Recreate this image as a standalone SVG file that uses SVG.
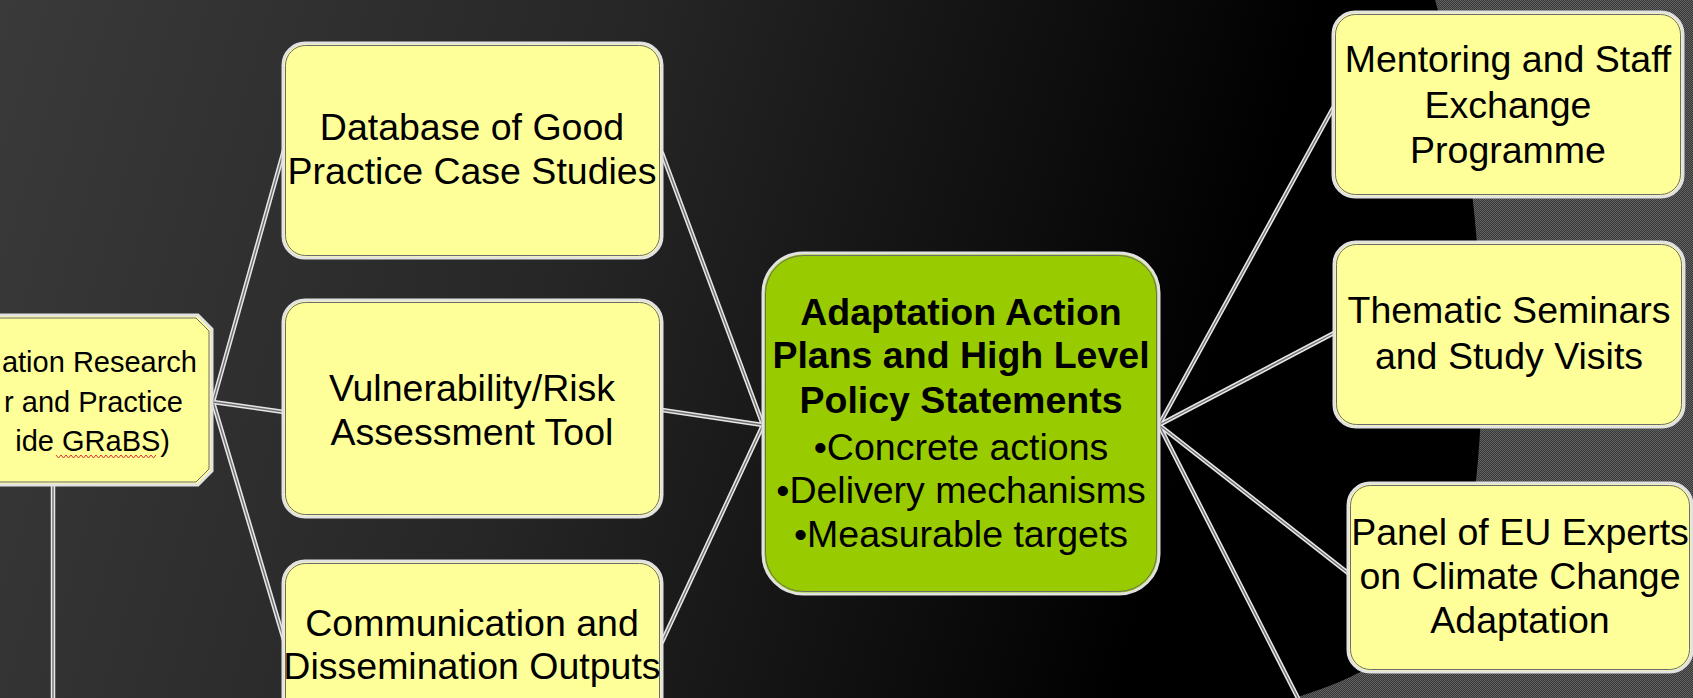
<svg xmlns="http://www.w3.org/2000/svg" width="1693" height="698" viewBox="0 0 1693 698">
  <defs>
    <linearGradient id="bg" x1="0" y1="0" x2="1693" y2="500" gradientUnits="userSpaceOnUse">
      <stop offset="0" stop-color="#3a3a3a"/>
      <stop offset="0.35" stop-color="#262626"/>
      <stop offset="0.6" stop-color="#0d0d0d"/>
      <stop offset="0.72" stop-color="#000"/>
      <stop offset="1" stop-color="#000"/>
    </linearGradient>
    <pattern id="dots" width="2" height="2" patternUnits="userSpaceOnUse">
      <rect width="2" height="2" fill="#383838"/>
      <rect width="1" height="1" fill="#626262"/>
      <rect x="1" y="1" width="1" height="1" fill="#626262"/>
    </pattern>
    <style>
      .box { fill: #ffff99; stroke: #e2e2e2; stroke-width: 3; }
      .inner { fill: none; stroke: #6b6b6b; stroke-width: 1; }
      .green { fill: #99cc00; stroke: #e2e2e2; stroke-width: 3; }
      .t { font-family: "Liberation Sans", Arial, sans-serif; fill: #000; text-anchor: middle; }
      .n { font-size: 37.5px; }
      .b { font-size: 37.5px; font-weight: bold; }
      .s { font-size: 29px; text-anchor: end; }
      .c1 { fill: none; stroke: #e6e6e6; stroke-width: 4.5; stroke-linecap: round; }
      .c2 { fill: none; stroke: #707070; stroke-width: 1.4; stroke-linecap: round; }
    </style>
  </defs>

  <rect width="1693" height="698" fill="url(#bg)"/>
  <path d="M1435,0 C1468,110 1492,300 1478,460 C1468,570 1450,650 1295,698 L1693,698 L1693,0 Z" fill="url(#dots)"/>

  <g id="connectors">
    <g class="c1">
      <line x1="213" y1="402" x2="284" y2="150"/>
      <line x1="213" y1="402" x2="284" y2="412"/>
      <line x1="213" y1="402" x2="284" y2="640"/>
      <line x1="53" y1="486" x2="53" y2="698"/>
      <line x1="662" y1="153" x2="763" y2="425"/>
      <line x1="662" y1="410" x2="763" y2="425"/>
      <line x1="662" y1="642" x2="763" y2="425"/>
      <line x1="1159" y1="425" x2="1333" y2="108"/>
      <line x1="1159" y1="425" x2="1334" y2="333"/>
      <line x1="1159" y1="425" x2="1348" y2="573"/>
      <line x1="1159" y1="425" x2="1304" y2="710"/>
    </g>
    <g class="c2">
      <line x1="213" y1="402" x2="284" y2="150"/>
      <line x1="213" y1="402" x2="284" y2="412"/>
      <line x1="213" y1="402" x2="284" y2="640"/>
      <line x1="53" y1="486" x2="53" y2="698"/>
      <line x1="662" y1="153" x2="763" y2="425"/>
      <line x1="662" y1="410" x2="763" y2="425"/>
      <line x1="662" y1="642" x2="763" y2="425"/>
      <line x1="1159" y1="425" x2="1333" y2="108"/>
      <line x1="1159" y1="425" x2="1334" y2="333"/>
      <line x1="1159" y1="425" x2="1348" y2="573"/>
      <line x1="1159" y1="425" x2="1304" y2="710"/>
    </g>
  </g>

  <g id="node-left">
    <path class="box" d="M-200,315 H198 L212,329 V471 L198,485 H-200 Z"/>
    <path class="inner" d="M-200,318 H196 L209,331 V469 L196,482 H-200"/>
    <text class="t s" x="197" y="372">ation Research</text>
    <text class="t s" x="183" y="412">r and Practice</text>
    <text class="t s" x="170" y="451">ide GRaBS)</text>
    <path d="M56,455 l2.5,3 l2.5,-3 l2.5,3 l2.5,-3 l2.5,3 l2.5,-3 l2.5,3 l2.5,-3 l2.5,3 l2.5,-3 l2.5,3 l2.5,-3 l2.5,3 l2.5,-3 l2.5,3 l2.5,-3 l2.5,3 l2.5,-3 l2.5,3 l2.5,-3 l2.5,3 l2.5,-3 l2.5,3 l2.5,-3 l2.5,3 l2.5,-3 l2.5,3 l2.5,-3 l2.5,3 l2.5,-3 l2.5,3 l2.5,-3 l2.5,3 l2.5,-3 l2.5,3 l2.5,-3 l2.5,3 l2.5,-3 l2.5,3 l2.5,-3" fill="none" stroke="#e53030" stroke-width="1"/>
  </g>

  <g id="node-database">
    <rect class="box" x="283" y="43" width="379" height="215" rx="22"/>
    <rect class="inner" x="285.5" y="45.5" width="374" height="210" rx="20"/>
    <text class="t n" x="472" y="140">Database of Good</text>
    <text class="t n" x="472" y="184">Practice Case Studies</text>
  </g>

  <g id="node-vulnerability">
    <rect class="box" x="283" y="300" width="379" height="217" rx="22"/>
    <rect class="inner" x="285.5" y="302.5" width="374" height="212" rx="20"/>
    <text class="t n" x="472" y="401">Vulnerability/Risk</text>
    <text class="t n" x="472" y="445">Assessment Tool</text>
  </g>

  <g id="node-communication">
    <rect class="box" x="283" y="561" width="379" height="180" rx="22"/>
    <rect class="inner" x="285.5" y="563.5" width="374" height="175" rx="20"/>
    <text class="t n" x="472" y="636">Communication and</text>
    <text class="t n" x="472" y="679">Dissemination Outputs</text>
  </g>

  <g id="node-action-plans">
    <rect class="green" x="763" y="253" width="396" height="341" rx="40"/>
    <rect class="inner" x="765.5" y="255.5" width="391" height="336" rx="38"/>
    <text class="t b" x="961" y="325">Adaptation Action</text>
    <text class="t b" x="961" y="368">Plans and High Level</text>
    <text class="t b" x="961" y="413">Policy Statements</text>
    <text class="t n" x="961" y="460">•Concrete actions</text>
    <text class="t n" x="961" y="503">•Delivery mechanisms</text>
    <text class="t n" x="961" y="547">•Measurable targets</text>
  </g>

  <g id="node-mentoring">
    <rect class="box" x="1333" y="12" width="350" height="185" rx="22"/>
    <rect class="inner" x="1335.5" y="14.5" width="345" height="180" rx="20"/>
    <text class="t n" x="1508" y="72">Mentoring and Staff</text>
    <text class="t n" x="1508" y="118">Exchange</text>
    <text class="t n" x="1508" y="163">Programme</text>
  </g>

  <g id="node-thematic">
    <rect class="box" x="1334" y="242" width="350" height="185" rx="22"/>
    <rect class="inner" x="1336.5" y="244.5" width="345" height="180" rx="20"/>
    <text class="t n" x="1509" y="323">Thematic Seminars</text>
    <text class="t n" x="1509" y="369">and Study Visits</text>
  </g>

  <g id="node-panel">
    <rect class="box" x="1348" y="483" width="344" height="189" rx="22"/>
    <rect class="inner" x="1350.5" y="485.5" width="339" height="184" rx="20"/>
    <text class="t n" x="1520" y="545">Panel of EU Experts</text>
    <text class="t n" x="1520" y="589">on Climate Change</text>
    <text class="t n" x="1520" y="633">Adaptation</text>
  </g>
</svg>
